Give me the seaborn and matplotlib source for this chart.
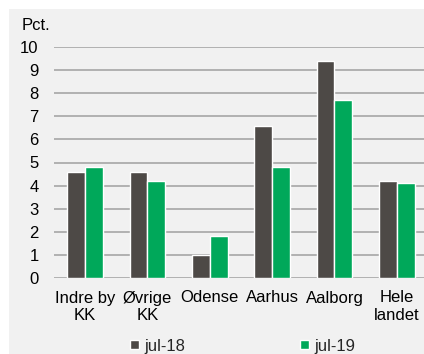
import matplotlib
matplotlib.use("Agg")
import matplotlib.pyplot as plt
import seaborn as sns
import pandas as pd
from matplotlib.patches import Rectangle

categories = ["Indre by\nKK", "Øvrige\nKK", "Odense", "Aarhus", "Aalborg", "Hele\nlandet"]
series_names = ["jul-18", "jul-19"]
jul18 = [4.6, 4.6, 1.0, 6.6, 9.4, 4.2]
jul19 = [4.8, 4.2, 1.8, 4.8, 7.7, 4.1]
yticks = [0, 1, 2, 3, 4, 5, 6, 7, 8, 9, 10]

df = pd.DataFrame({
    "cat": categories * 2,
    "series": [series_names[0]] * len(categories) + [series_names[1]] * len(categories),
    "value": jul18 + jul19,
})

sns.set_theme(style="white")
plt.rcParams["font.family"] = ["Liberation Sans", "DejaVu Sans"]

W, H = 424, 354
fig = plt.figure(figsize=(W / 100, H / 100), dpi=100, facecolor="white")
fig.patches.append(Rectangle((9 / W, 0), 1, (H - 9) / H, transform=fig.transFigure,
                             facecolor="#f1f1f1", edgecolor="none", zorder=-10))

ax = fig.add_axes([54 / W, 1 - 278 / H, (428 - 54) / W, (278 - 47) / H])
ax.set_facecolor("none")
ax.set_zorder(1)

palette = {"jul-18": "#4d4946", "jul-19": "#00a85a"}
sns.barplot(data=df, x="cat", y="value", hue="series", palette=palette,
            width=0.576, gap=0, saturation=1, ax=ax, zorder=3, legend=True)

ax.set_ylim(0, 10)
ax.set_yticks(yticks)
ax.set_yticklabels([str(t) for t in yticks])
ax.set_xlim(-0.5, len(categories) - 0.5)
ax.set_xlabel("")
ax.set_ylabel("")
for s in ax.spines.values():
    s.set_visible(False)
ax.grid(False)
for t in yticks:
    ax.axhline(t, color="#a6a6a6", lw=1.2, zorder=1)
ax.tick_params(axis="both", length=0, labelsize=12, colors="black")
ax.tick_params(axis="y", pad=11)
ax.tick_params(axis="x", pad=9)
for lbl in ax.get_xticklabels():
    lbl.set_linespacing(1.25)

fig.text(22 / W, 1 - 25 / H, "Pct.", fontsize=12, va="center", ha="left", color="black")

handles, labels = ax.get_legend_handles_labels()
ax.get_legend().remove()
fig.legend(handles, labels, loc="center", bbox_to_anchor=(0.5 * (133 + 353) / W, 1 - 346 / H),
           ncol=2, frameon=False, fontsize=12, handlelength=0.5, handleheight=0.5,
           handletextpad=0.35, columnspacing=6.9, borderaxespad=0, borderpad=0)

fig.savefig("out.png", dpi=100, facecolor="white")
